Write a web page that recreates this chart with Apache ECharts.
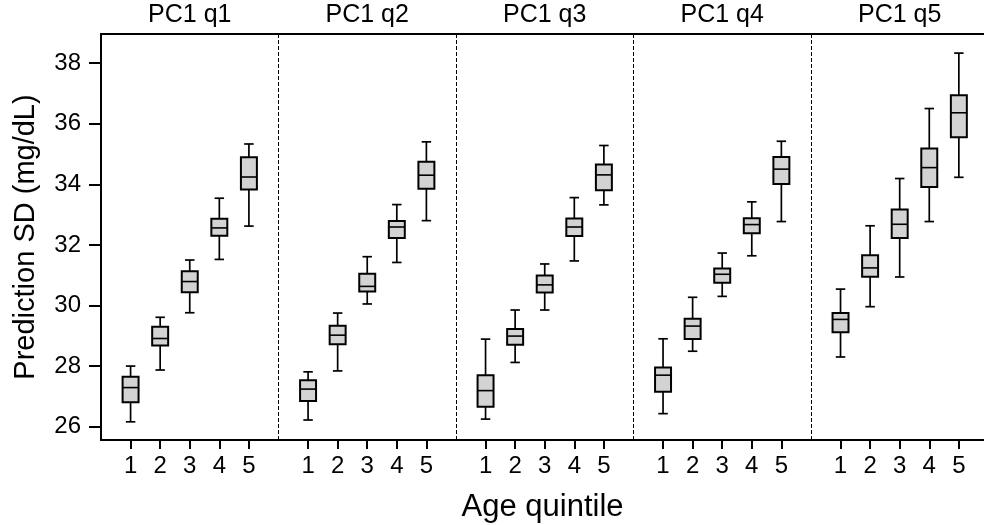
<!DOCTYPE html>
<html><head><meta charset="utf-8">
<script src="https://cdn.jsdelivr.net/npm/echarts@6/dist/echarts.min.js"></script>
<style>html,body{margin:0;padding:0;background:#fff}#c{width:984px;height:525px}</style>
</head><body><div id="c"></div>
<script>
const panels = ['PC1 q1', 'PC1 q2', 'PC1 q3', 'PC1 q4', 'PC1 q5'];
const quintiles = ['1', '2', '3', '4', '5'];
const yTicks = [26, 28, 30, 32, 34, 36, 38];
// each row: [whiskerLow, Q1, median, Q3, whiskerHigh] for age quintiles 1..5
const pc1q1 = [[26.16, 26.81, 27.29, 27.65, 28.00], [27.87, 28.68, 28.91, 29.30, 29.61], [29.76, 30.44, 30.79, 31.13, 31.50], [31.52, 32.30, 32.56, 32.86, 33.54], [32.62, 33.83, 34.24, 34.89, 35.33]];
const pc1q2 = [[26.22, 26.85, 27.24, 27.53, 27.81], [27.84, 28.72, 29.02, 29.33, 29.75], [30.05, 30.46, 30.63, 31.05, 31.61], [31.42, 32.23, 32.59, 32.79, 33.33], [32.80, 33.85, 34.30, 34.74, 35.40]];
const pc1q3 = [[26.25, 26.66, 27.19, 27.70, 28.89], [28.12, 28.70, 28.99, 29.22, 29.85], [29.85, 30.43, 30.68, 30.99, 31.37], [31.47, 32.29, 32.59, 32.87, 33.56], [33.32, 33.80, 34.31, 34.65, 35.28]];
const pc1q4 = [[26.43, 27.15, 27.70, 27.95, 28.90], [28.49, 28.89, 29.32, 29.56, 30.27], [30.30, 30.75, 31.03, 31.22, 31.73], [31.64, 32.38, 32.67, 32.88, 33.42], [32.77, 34.01, 34.50, 34.90, 35.42]];
const pc1q5 = [[28.30, 29.12, 29.54, 29.75, 30.54], [29.96, 30.95, 31.24, 31.66, 32.63], [30.94, 32.23, 32.68, 33.17, 34.19], [32.77, 33.91, 34.55, 35.18, 36.50], [34.23, 35.55, 36.36, 36.94, 38.33]];
const panelStats = [pc1q1, pc1q2, pc1q3, pc1q4, pc1q5];

const FONT = 'Liberation Sans, Arial, Helvetica, sans-serif';

const boxData = [];
const tickPos = [];
panelStats.forEach((stats, p) => {
  stats.forEach((s, q) => {
    const x = p * (quintiles.length + 1) + q + 1;
    boxData.push([x].concat(s));
    tickPos.push(x);
  });
});
const titlePos = panels.map((_, p) => p * (quintiles.length + 1) + (quintiles.length + 1) / 2);
const dividers = panels.slice(1).map((_, p) => ({ xAxis: (p + 1) * (quintiles.length + 1) }));

const chart = echarts.init(document.getElementById('c'), null, { renderer: 'canvas' });
chart.setOption({
  animation: false,
  backgroundColor: '#fff',
  grid: { left: 101, right: 0, top: 34, bottom: 85, outerBoundsMode: 'none' },
  xAxis: [{
    type: 'value', min: 0, max: 29.85, position: 'bottom',
    name: 'Age quintile', nameLocation: 'middle', nameGap: 52,
    nameTextStyle: { fontFamily: FONT, fontSize: 31, color: '#000' },
    axisLine: { show: true, onZero: false, lineStyle: { color: '#000', width: 2 } },
    axisTick: { show: true, customValues: tickPos, length: 9, lineStyle: { color: '#000', width: 2 } },
    axisLabel: { customValues: tickPos, formatter: v => quintiles[(Math.round(v) % (quintiles.length + 1)) - 1], fontFamily: FONT, fontSize: 24, color: '#000', margin: 14 },
    splitLine: { show: false }
  }, {
    type: 'value', min: 0, max: 29.85, position: 'top',
    axisLine: { show: true, onZero: false, lineStyle: { color: '#000', width: 2 } },
    axisTick: { show: false },
    axisLabel: { customValues: titlePos, formatter: v => panels[Math.round((v - 3) / 6)], fontFamily: FONT, fontSize: 25, color: '#000', margin: 6 },
    splitLine: { show: false }
  }],
  yAxis: {
    type: 'value', min: 25.56, max: 38.96,
    name: 'Prediction SD (mg/dL)', nameLocation: 'middle', nameGap: 61,
    nameTextStyle: { fontFamily: FONT, fontSize: 29, color: '#000' },
    axisLine: { show: true, onZero: false, lineStyle: { color: '#000', width: 2 } },
    axisTick: { show: true, customValues: yTicks, length: 12, lineStyle: { color: '#000', width: 2 } },
    axisLabel: { customValues: yTicks, fontFamily: FONT, fontSize: 24, color: '#000', margin: 20 },
    splitLine: { show: false }
  },
  series: [{
    type: 'custom',
    xAxisIndex: 0,
    encode: { x: 0, y: [1, 2, 3, 4, 5] },
    data: boxData,
    renderItem: function (params, api) {
      const x = api.value(0);
      const lo = api.coord([x, api.value(1)]);
      const q1 = api.coord([x, api.value(2)]);
      const med = api.coord([x, api.value(3)]);
      const q3 = api.coord([x, api.value(4)]);
      const hi = api.coord([x, api.value(5)]);
      const unit = api.size([1, 0])[0];
      const bw = unit * 0.54, cw = unit * 0.32;
      const cx = lo[0];
      const ls = { stroke: '#000', lineWidth: 1.7 };
      return {
        type: 'group', children: [
          { type: 'line', shape: { x1: cx, y1: lo[1], x2: cx, y2: q1[1] }, style: ls },
          { type: 'line', shape: { x1: cx, y1: q3[1], x2: cx, y2: hi[1] }, style: ls },
          { type: 'line', shape: { x1: cx - cw / 2, y1: lo[1], x2: cx + cw / 2, y2: lo[1] }, style: ls },
          { type: 'line', shape: { x1: cx - cw / 2, y1: hi[1], x2: cx + cw / 2, y2: hi[1] }, style: ls },
          { type: 'rect', shape: { x: cx - bw / 2, y: q3[1], width: bw, height: q1[1] - q3[1] }, style: { fill: '#d3d3d3', stroke: '#000', lineWidth: 2 } },
          { type: 'line', shape: { x1: cx - bw / 2, y1: med[1], x2: cx + bw / 2, y2: med[1] }, style: { stroke: '#000', lineWidth: 1.6 } }
        ]
      };
    },
    markLine: {
      silent: true, symbol: ['none', 'none'], label: { show: false },
      lineStyle: { color: '#000', width: 1, type: [4, 2] },
      data: dividers
    }
  }]
});
</script>
</body></html>
